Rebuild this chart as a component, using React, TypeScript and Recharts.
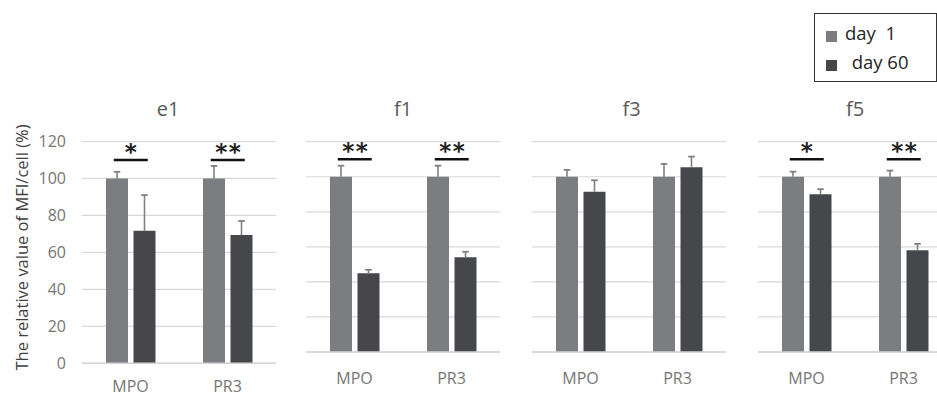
import { BarChart, Bar, XAxis, YAxis, CartesianGrid, LabelList } from 'recharts';

const categories = ['MPO', 'PR3'];
const yTicks = [0, 20, 40, 60, 80, 100, 120];
const sigLevel = 110;

const e1Day1 = [100, 100];
const e1Day1Err = [3.6, 6.8];
const e1Day60 = [71.7, 69.4];
const e1Day60Err = [19.3, 7.6];
const e1Sig = ['*', '**'];

const f1Day1 = [100, 100];
const f1Day1Err = [6.3, 6.3];
const f1Day60 = [45, 54];
const f1Day60Err = [1.9, 3.2];
const f1Sig = ['**', '**'];

const f3Day1 = [100, 100];
const f3Day1Err = [3.9, 7.3];
const f3Day60 = [91.5, 105.4];
const f3Day60Err = [6.5, 6.1];
const f3Sig = ['', ''];

const f5Day1 = [100, 100];
const f5Day1Err = [2.9, 3.5];
const f5Day60 = [90, 58.1];
const f5Day60Err = [2.9, 3.6];
const f5Sig = ['*', '**'];

const DAY1 = '#7c7d81';
const DAY60 = '#46474a';
const ERR = '#808080';
const GRID = '#d9d9d9';
const FONT = '"Open Sans", "Noto Sans", sans-serif';
const BAR = 22;
const GAP = 5.5;

interface Row { cat: string; d1: number; d1e: number; d60: number; d60e: number; sig: string; }

const build = (d1: number[], d1e: number[], d60: number[], d60e: number[], sig: string[]): Row[] =>
  categories.map((cat, i) => ({ cat, d1: d1[i], d1e: d1e[i], d60: d60[i], d60e: d60e[i], sig: sig[i] }));

// error whisker above a bar, only the positive half
// eslint-disable-next-line @typescript-eslint/no-explicit-any
const errContent = (rows: Row[], key: 'd1' | 'd60') => (props: any) => {
  const vb = props.viewBox || props;
  const { x, y, width, height } = vb;
  const row = rows[props.index];
  if (!row || !height) return null;
  const px = height / row[key];
  const err = key === 'd1' ? row.d1e : row.d60e;
  const cx = x + width / 2;
  const top = y - err * px;
  return (
    <g>
      <line x1={cx} x2={cx} y1={y} y2={top} stroke={ERR} strokeWidth={1.6} />
      <line x1={cx - 3.3} x2={cx + 3.3} y1={top} y2={top} stroke={ERR} strokeWidth={1.8} />
    </g>
  );
};

// significance bar + asterisks over a category, hung on the day 1 bar
// eslint-disable-next-line @typescript-eslint/no-explicit-any
const sigContent = (rows: Row[]) => (props: any) => {
  const vb = props.viewBox || props;
  const { x, y, width, height } = vb;
  const row = rows[props.index];
  if (!row || !row.sig || !height) return null;
  const px = height / row.d1;
  const base = y + height;
  const ly = base - sigLevel * px;
  const cx = x + width + GAP / 2;
  return (
    <g>
      <line x1={cx - 17} x2={cx + 17} y1={ly} y2={ly} stroke="#111" strokeWidth={2.3} />
      <text x={cx + (row.sig.length > 1 ? 1 : 0)} y={ly} textAnchor="middle"
        fontSize={23} fontWeight="bold" fontFamily="DejaVu Sans" fill="#222"
        letterSpacing={row.sig.length > 1 ? 1.5 : 0}>
        {row.sig}
      </text>
    </g>
  );
};

interface PanelProps {
  rows: Row[];
  left: number;
  plotTop: number;
  plotHeight: number;
  yAxisWidth: number;
  labelGap: number;
}

function Panel({ rows, left, plotTop, plotHeight, yAxisWidth, labelGap }: PanelProps) {
  const top = 100;
  const marginTop = plotTop - top;
  const xAxisHeight = 46;
  return (
    <div style={{ position: 'absolute', left, top }}>
      <BarChart
        width={yAxisWidth + 194}
        height={marginTop + plotHeight + xAxisHeight}
        data={rows}
        margin={{ top: marginTop, right: 0, left: 0, bottom: 0 }}
        barSize={BAR}
        barGap={GAP}
      >
        <CartesianGrid vertical={false} stroke={GRID} strokeWidth={1.2} />
        <XAxis
          dataKey="cat"
          height={xAxisHeight}
          axisLine={{ stroke: '#d4d4d4', strokeWidth: 1.6 }}
          tickLine={false}
          tickSize={0}
          tickMargin={labelGap}
          tick={{ fontSize: 16, fill: '#767676', fontFamily: FONT }}
        />
        <YAxis
          hide={yAxisWidth === 0}
          width={yAxisWidth}
          domain={[0, 120]}
          ticks={yTicks}
          axisLine={false}
          tickLine={false}
          tickSize={0}
          tickMargin={16}
          tick={{ fontSize: 16, fill: '#767676', fontFamily: FONT }}
        />
        <Bar dataKey="d1" fill={DAY1} isAnimationActive={false}>
          <LabelList dataKey="d1" content={errContent(rows, 'd1')} />
          <LabelList dataKey="d1" content={sigContent(rows)} />
        </Bar>
        <Bar dataKey="d60" fill={DAY60} isAnimationActive={false}>
          <LabelList dataKey="d60" content={errContent(rows, 'd60')} />
        </Bar>
      </BarChart>
    </div>
  );
}

const titles = [
  { text: 'e1', cx: 168 },
  { text: 'f1', cx: 403 },
  { text: 'f3', cx: 631.5 },
  { text: 'f5', cx: 855 },
];

export default function App() {
  return (
    <div style={{
      position: 'fixed', left: 0, top: 0, width: 937, height: 399,
      overflow: 'hidden', background: '#fff', fontFamily: FONT,
    }}>
      {titles.map(t => (
        <div key={t.text} style={{
          position: 'absolute', left: t.cx - 50, top: 99, width: 100,
          textAlign: 'center', fontSize: 20, lineHeight: '20px', color: '#595959',
        }}>{t.text}</div>
      ))}

      <div style={{
        position: 'absolute', left: 20.5 - 160, top: 247.5 - 8.5, width: 320, height: 17,
        lineHeight: '17px', fontSize: 16.5, textAlign: 'center', color: '#3f3f3f',
        transform: 'rotate(-90deg)', whiteSpace: 'nowrap',
      }}>The relative value of MFI/cell (%)</div>

      <Panel rows={build(e1Day1, e1Day1Err, e1Day60, e1Day60Err, e1Sig)} left={0} plotTop={141.5} plotHeight={221.8} yAxisWidth={82} labelGap={17.5} />
      <Panel rows={build(f1Day1, f1Day1Err, f1Day60, f1Day60Err, f1Sig)} left={306} plotTop={141.7} plotHeight={210.3} yAxisWidth={0} labelGap={21} />
      <Panel rows={build(f3Day1, f3Day1Err, f3Day60, f3Day60Err, f3Sig)} left={532} plotTop={141.7} plotHeight={210.3} yAxisWidth={0} labelGap={21} />
      <Panel rows={build(f5Day1, f5Day1Err, f5Day60, f5Day60Err, f5Sig)} left={758.3} plotTop={141.7} plotHeight={210.3} yAxisWidth={0} labelGap={21} />

      {/* shared legend */}
      <div style={{
        position: 'absolute', left: 814, top: 13, width: 123, height: 69,
        boxSizing: 'border-box', border: '1.5px solid #333',
      }} />
      <div style={{ position: 'absolute', left: 826, top: 31, width: 11, height: 11, background: DAY1 }} />
      <div style={{ position: 'absolute', left: 826, top: 59.5, width: 11, height: 11, background: DAY60 }} />
      <div style={{
        position: 'absolute', left: 845, top: 24, fontSize: 18.5, lineHeight: '18px',
        color: '#262626', whiteSpace: 'pre',
      }}>{'day  1'}</div>
      <div style={{
        position: 'absolute', left: 851.7, top: 52.5, fontSize: 18.5, lineHeight: '18px',
        color: '#262626', whiteSpace: 'pre',
      }}>{'day 60'}</div>
    </div>
  );
}
